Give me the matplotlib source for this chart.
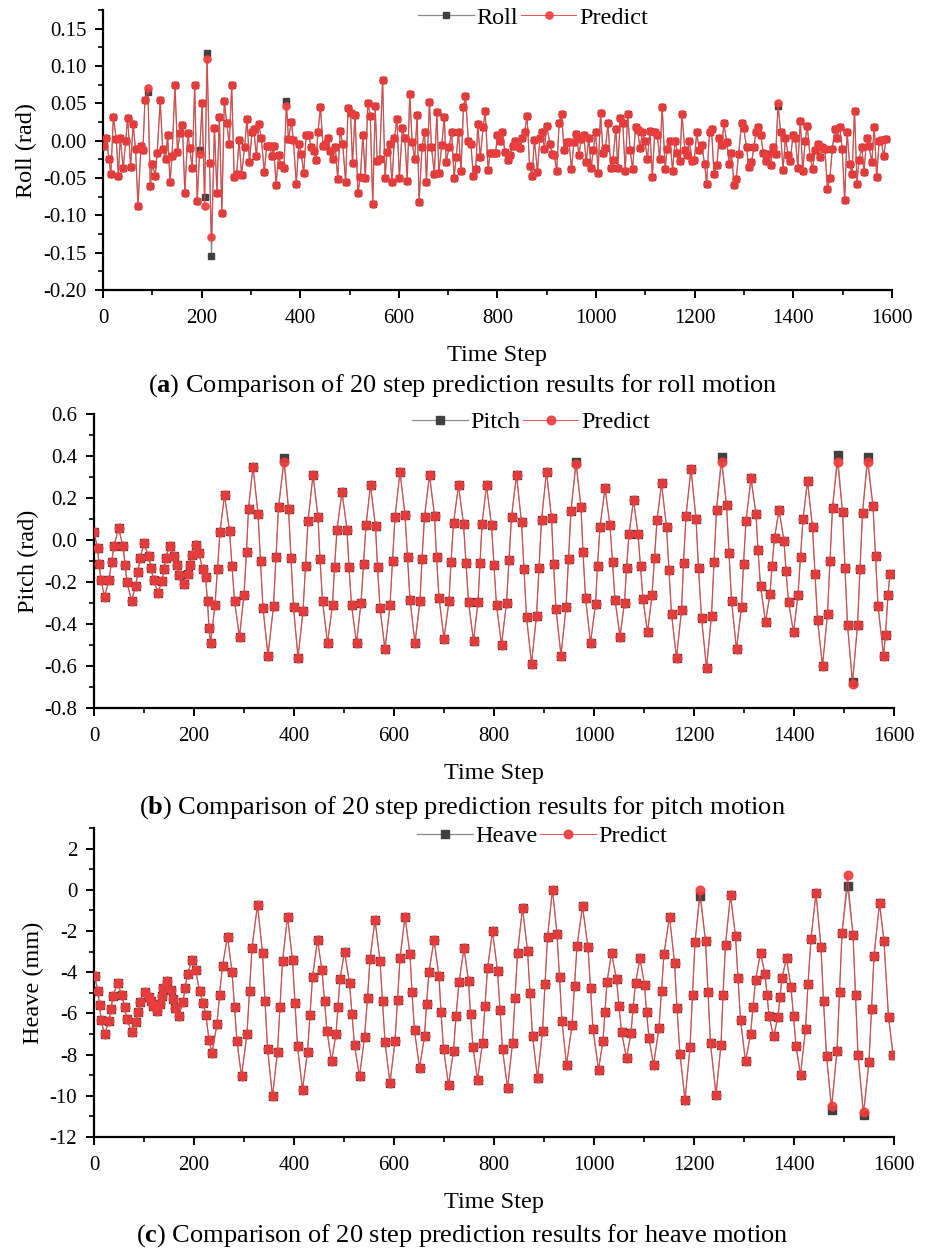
import matplotlib
matplotlib.use("Agg")
import matplotlib.pyplot as plt
from matplotlib.ticker import MultipleLocator, FormatStrFormatter

# ---------------- data ----------------
# (a) roll, rad  -- predicted values, measured differs only where listed below
roll_t = [3, 7, 12, 16, 21, 27, 31, 35, 41, 46, 50, 56, 61, 66, 71, 77, 81, 85, 91, 96,
          100, 106, 110, 116, 121, 127, 131, 136, 140, 146, 151, 156, 161, 166, 172, 176, 181, 186, 191, 196,
          201, 206, 211, 216, 220, 226, 231, 236, 241, 246, 251, 256, 261, 266, 271, 276, 281, 287, 292, 297,
          302, 306, 311, 316, 321, 327, 332, 338, 342, 346, 351, 356, 361, 367, 372, 376, 382, 386, 392, 397,
          402, 407, 412, 417, 422, 427, 432, 436, 441, 446, 451, 456, 461, 466, 471, 476, 481, 486, 492, 497,
          502, 506, 511, 517, 522, 527, 532, 537, 542, 547, 552, 556, 561, 567, 572, 576, 581, 586, 591, 596,
          601, 607, 612, 617, 622, 627, 632, 637, 641, 647, 652, 656, 662, 666, 672, 677, 681, 687, 692, 696,
          702, 707, 712,
          716, 721, 726, 731, 735, 741, 746, 751, 756, 760, 765, 771, 775, 781, 785, 790, 796, 800, 805, 810,
          815, 821, 825, 831, 836, 840, 846, 850, 855, 860, 865, 870, 875, 881, 886, 890, 895, 900, 906, 911,
          915, 920, 925, 930, 935, 940, 945, 950, 955, 960, 965, 970, 975, 980, 985, 990, 994, 999, 1004, 1009,
          1014, 1019, 1024, 1030, 1034, 1040, 1044, 1049, 1054, 1059, 1064, 1069, 1074, 1080, 1084, 1089, 1094,
          1099, 1104, 1109, 1114, 1119, 1124, 1129, 1134, 1140, 1144, 1150, 1155, 1160, 1165,
          1170, 1174, 1180, 1184, 1189, 1195, 1199, 1204, 1209, 1214, 1220, 1224, 1230, 1234, 1239, 1245, 1249,
          1255, 1259, 1265, 1270, 1274, 1280, 1284, 1289, 1295, 1299, 1305, 1309, 1315, 1320, 1324, 1329, 1334,
          1339, 1344, 1349, 1354, 1359, 1364, 1369, 1374, 1379, 1384, 1389, 1394, 1399, 1404, 1409, 1414, 1419,
          1424, 1428, 1434, 1439, 1444, 1449, 1454, 1459, 1464, 1469, 1474, 1479, 1484, 1489, 1494, 1499, 1504,
          1509, 1514, 1519, 1524, 1529, 1533, 1539, 1543, 1549, 1553, 1559, 1564, 1569, 1574, 1578, 1583, 1588]
roll_predict = [-0.007, 0.003, -0.025, -0.045, 0.032, 0.002, -0.047, 0.004, -0.037, -0.001,
                0.031, -0.035, 0.022, -0.011, -0.088, -0.007, -0.013, 0.054, 0.07, -0.061,
                -0.031, -0.047, -0.016, 0.054, -0.011, -0.025, 0.007, -0.055, -0.021, 0.075,
                -0.015, 0.01, 0.021, -0.07, 0.01, -0.01, -0.037, 0.075, -0.081, -0.018,
                0.05, -0.088, 0.11, -0.03, -0.129, 0.017, -0.07, 0.032, -0.097, 0.053,
                0.023, -0.005, 0.075, -0.048, -0.044, 0.001, -0.046, -0.009, 0.029, -0.029,
                0.011, 0.015, -0.021, 0.022, 0.004, -0.042, -0.007, -0.007, -0.021, -0.007,
                -0.059, -0.019, -0.033, -0.037, 0.046, 0.002, 0.025, 0.001, -0.058, -0.004,
                -0.018, -0.043, 0.008, 0.007, -0.008, -0.014, -0.026, 0.012, 0.045, -0.007,
                -0.004, 0.003, -0.014, -0.025, -0.008, -0.051, 0.013, -0.004, -0.055, 0.044,
                0.037, -0.03, 0.035, -0.07, -0.048, 0.008, -0.05, 0.051, 0.033, -0.085,
                0.046, -0.027, -0.024, 0.081, -0.05, -0.015, -0.005, -0.056, 0.003, 0.029,
                -0.05, 0.017, 0.003, -0.054, 0.063, -0.002, -0.025, 0.034, -0.082, -0.008,
                0.012, -0.055, 0.052, -0.008, -0.045, 0.039, -0.043, -0.006, 0.032, -0.029,
                -0.008, 0.012, -0.05,
                -0.022, 0.011, -0.041, 0.045, 0.06, 0.0, -0.004, -0.047, -0.038, 0.022,
                -0.022, 0.018, 0.04, -0.039, -0.017, -0.016, -0.016, 0.007, 0.0, 0.012,
                -0.015, -0.026, -0.019, -0.007, 0.0, -0.007, -0.01, 0.004, 0.012, 0.033,
                -0.034, -0.047, 0.001, -0.042, 0.004, 0.012, -0.011, 0.02, -0.004, -0.018,
                -0.019, -0.04, 0.023, 0.036, -0.013, -0.002, -0.002, -0.038, -0.002, 0.009,
                -0.019, 0.002, 0.008, -0.029, 0.004, -0.037, -0.013, 0.011, -0.043, 0.037,
                -0.017, -0.01, 0.023, -0.037, -0.026, 0.016, -0.037, 0.03, 0.024, -0.041,
                0.036, -0.013, -0.038, 0.018, 0.014, -0.01, 0.012, -0.001, -0.025, 0.013,
                -0.048, 0.012, 0.008, -0.025, 0.045, -0.038, -0.011, 0.0, -0.04, 0.0, -0.017,
                -0.027, 0.036, -0.013, -0.019, -0.001, -0.027, -0.026, 0.011, -0.012, -0.006,
                -0.031, -0.058, 0.012, 0.016, -0.044, -0.033, 0.004, -0.006, 0.023, -0.002,
                -0.031, -0.016, -0.059, -0.051, -0.018, 0.024, 0.017, -0.008, -0.035, -0.029,
                -0.009, 0.012, 0.018, 0.008, -0.017, -0.027, -0.018, -0.032, -0.008, -0.018,
                0.05, 0.012, -0.039, 0.004, -0.019, -0.027, 0.007, 0.004, -0.036, 0.027,
                -0.041, 0.0, 0.02, -0.022, -0.038, -0.013, -0.004, -0.022, -0.009, -0.011,
                -0.065, -0.05, -0.011, 0.016, 0.004, 0.018, -0.011, -0.08, 0.012, -0.031,
                -0.045, 0.04, -0.058, -0.026, -0.009, -0.042, 0.004, -0.007, -0.028, 0.018,
                -0.049, 0.0, 0.001, -0.021, 0.002]
# measured roll where it differs from the prediction
roll_meas_t = [91, 196, 206, 211, 220, 372, 1369]
roll_meas_v = [0.065, -0.012, -0.076, 0.117, -0.155, 0.053, 0.047]

# (b) pitch, rad -- measured; prediction differs only where listed
pitch_t = [0, 7, 10, 14, 21, 30, 35, 40, 49, 58, 62, 66, 75, 83, 88, 92, 100,
           109, 114, 119, 128, 136, 140, 143, 151, 160, 165, 170, 179, 187, 191, 195, 203,
           210, 217, 223, 227, 230, 233,
           242, 247, 252, 261, 271, 276, 281, 291, 300, 305, 309, 318, 328, 333, 338, 348,
           359, 364, 369, 380, 389, 394, 399, 408, 418, 423, 428, 438, 448, 452, 457, 467,
           477, 481, 486, 496, 506, 510, 515, 525, 534, 539, 544, 553, 563, 567, 572, 582,
           592, 597, 602, 612, 622, 627, 632, 642, 652, 656, 661, 671, 681, 685, 690, 700,
           710, 714, 719, 729, 739, 744, 749, 759, 768, 772, 776, 785, 795, 800, 805, 815,
           825, 830, 835, 845, 855, 860, 865, 875, 885, 890, 895, 905, 915, 919, 924, 934,
           944, 949, 954, 964, 974, 978, 983, 993, 1003, 1007, 1012, 1022, 1032, 1037, 1042, 1052,
           1061, 1065, 1070, 1079, 1088, 1093, 1098, 1107, 1116, 1121, 1126, 1135, 1145, 1150, 1155, 1165,
           1175, 1179, 1184, 1194, 1204, 1209, 1215, 1225, 1235, 1240, 1245, 1255, 1265, 1270, 1275, 1285,
           1295, 1299, 1304, 1314, 1324, 1328, 1333, 1343, 1352, 1356, 1361, 1370, 1380, 1384, 1389, 1399,
           1408, 1413, 1418, 1427, 1437, 1442, 1447, 1457, 1467, 1472, 1477, 1487, 1497, 1502, 1507, 1517,
           1527, 1532, 1537, 1547, 1558, 1563, 1568, 1579, 1583, 1588, 1592]
pitch = [0.04, -0.04, -0.115, -0.19, -0.27, -0.19, -0.107, -0.03, 0.056, -0.03, -0.117, -0.20, -0.29,
         -0.22, -0.153, -0.085, -0.016,
         -0.075, -0.133, -0.19, -0.25, -0.195, -0.14, -0.085, -0.03, -0.075, -0.12, -0.165, -0.21,
         -0.163, -0.117, -0.07, -0.024,
         -0.06, -0.14, -0.175, -0.29, -0.42, -0.49,
         -0.31, -0.138, 0.04, 0.214, 0.045, -0.123, -0.29, -0.46, -0.26, -0.055, 0.15, 0.35,
         0.125, -0.10, -0.325, -0.55,
         -0.315, -0.08, 0.155, 0.39, 0.15, -0.085, -0.32, -0.56, -0.34, -0.125, 0.09, 0.31,
         0.11, -0.09, -0.29, -0.49,
         -0.31, -0.13, 0.05, 0.23, 0.05, -0.13, -0.31, -0.49, -0.30, -0.115, 0.07, 0.26,
         0.065, -0.13, -0.325, -0.52,
         -0.31, -0.098, 0.11, 0.325, 0.12, -0.083, -0.285, -0.49, -0.29, -0.09, 0.11, 0.31,
         0.115, -0.08, -0.275, -0.47,
         -0.29, -0.105, 0.08, 0.26, 0.075, -0.11, -0.295, -0.48, -0.295, -0.11, 0.075, 0.26,
         0.07, -0.12, -0.31, -0.50,
         -0.30, -0.095, 0.11, 0.31, 0.085, -0.14, -0.365, -0.59, -0.36, -0.133, 0.095, 0.325,
         0.105, -0.113, -0.33, -0.55,
         -0.32, -0.089, 0.14, 0.373, 0.157, -0.059, -0.275, -0.49, -0.306, -0.122, 0.062, 0.246,
         0.07, -0.107, -0.284, -0.46,
         -0.298, -0.135, 0.028, 0.19, 0.03, -0.125, -0.283, -0.44, -0.263, -0.085, 0.093, 0.27,
         0.063, -0.145, -0.353, -0.56,
         -0.335, -0.11, 0.115, 0.34, 0.10, -0.135, -0.37, -0.61, -0.36, -0.107, 0.145, 0.397,
         0.168, -0.062, -0.29, -0.52,
         -0.317, -0.113, 0.09, 0.294, 0.123, -0.048, -0.219, -0.39, -0.257, -0.124, 0.01, 0.143,
         -0.003, -0.149, -0.294, -0.44,
         -0.26, -0.08, 0.10, 0.28, 0.06, -0.16, -0.38, -0.60, -0.35, -0.098, 0.154, 0.405,
         0.135, -0.135, -0.405, -0.675,
         -0.407, -0.139, 0.129, 0.397, 0.16, -0.077, -0.313, -0.55, -0.45, -0.26, -0.16]
pitch_pred_t = [380, 964, 1255, 1487, 1517, 1547]
pitch_pred_v = [0.37, 0.36, 0.37, 0.37, -0.685, 0.37]

# (c) heave, mm -- measured; prediction differs only where listed
heave_t = [1, 8, 11, 14, 21, 30, 34, 38, 47, 56, 61, 66, 75, 84, 88, 92, 101,
           109, 113, 117, 125, 132, 135, 138, 145, 153, 157, 161, 169, 178, 182, 187, 196,
           203, 211, 218, 224, 230, 236,
           246, 251, 257, 267, 276, 281, 286, 295, 306, 311, 316, 327, 337, 342, 347, 357,
           367, 372, 377, 387, 397, 402, 407, 417, 427, 432, 437, 447, 456, 461, 466, 475,
           484, 488, 492, 501, 511, 516, 521, 531, 541, 547, 552, 562, 572, 577, 582, 592,
           602, 607, 612, 622, 632, 636, 641, 651, 661, 665, 670, 680, 690, 694, 699, 709,
           719, 724, 730, 740, 749, 753, 758, 767, 777, 782, 787, 797, 807, 812, 817, 827,
           837, 842, 847, 857, 867, 872, 877, 887, 897, 902, 907, 917, 926, 931, 936, 945,
           956, 961, 966, 977, 988, 993, 998, 1009, 1018, 1022, 1026, 1035, 1045, 1050, 1055, 1065,
           1074, 1078, 1083, 1092, 1101, 1105, 1110, 1119, 1130, 1135, 1140, 1151, 1161, 1166, 1172, 1182,
           1192, 1197, 1202, 1212, 1223, 1228, 1233, 1244, 1254, 1258, 1263, 1273, 1283, 1288, 1293, 1303,
           1313, 1318, 1323, 1333, 1342, 1346, 1350, 1359, 1368, 1372, 1376, 1385, 1394, 1399, 1404, 1413,
           1423, 1428, 1434, 1444, 1454, 1459, 1465, 1475, 1486, 1491, 1496, 1507, 1518, 1523, 1528, 1539,
           1550, 1555, 1560, 1571, 1580, 1589, 1598]
heave = [-4.2, -4.9, -5.6, -6.3, -7.0, -6.38, -5.77, -5.15, -4.53, -5.12, -5.7, -6.29, -6.88,
         -6.4, -5.91, -5.43, -4.94,
         -5.18, -5.42, -5.66, -5.9, -5.53, -5.16, -4.79, -4.42, -4.85, -5.28, -5.72, -6.15,
         -5.46, -4.78, -4.09, -3.4,
         -3.9, -4.9, -5.5, -6.1, -7.3, -7.93,
         -6.52, -5.1, -3.69, -2.27, -3.97, -5.67, -7.36, -9.06, -6.98, -4.9, -2.81, -0.73,
         -3.06, -5.38, -7.71, -10.03,
         -7.85, -5.67, -3.48, -1.3, -3.4, -5.5, -7.6, -9.7, -7.88, -6.07, -4.25, -2.43,
         -3.91, -5.38, -6.86, -8.33,
         -7.0, -5.67, -4.33, -3.0, -4.52, -6.03, -7.55, -9.06, -7.16, -5.26, -3.36, -1.46,
         -3.44, -5.42, -7.4, -9.38,
         -7.36, -5.34, -3.32, -1.3, -3.14, -4.98, -6.82, -8.66, -7.1, -5.55, -3.99, -2.43,
         -4.19, -5.95, -7.71, -9.47,
         -7.81, -6.15, -4.49, -2.83, -4.43, -6.03, -7.62, -9.22, -7.42, -5.62, -3.82, -2.02,
         -3.92, -5.83, -7.73, -9.63,
         -7.45, -5.26, -3.07, -0.89, -2.95, -5.02, -7.08, -9.14, -6.86, -4.57, -2.29, 0.0,
         -2.13, -4.25, -6.38, -8.5,
         -6.58, -4.66, -2.73, -0.81, -2.79, -4.78, -6.76, -8.74, -7.32, -5.91, -4.49, -3.07,
         -4.35, -5.62, -6.9, -8.17,
         -6.96, -5.75, -4.53, -3.32, -4.62, -5.91, -7.2, -8.5, -6.7, -4.9, -3.1, -1.3,
         -3.53, -5.75, -7.98, -10.2,
         -7.65, -5.1, -2.55, -0.3, -2.49, -4.98, -7.46, -9.95, -7.52, -5.1, -2.67, -0.24,
         -2.26, -4.29, -6.31, -8.33,
         -7.02, -5.7, -4.39, -3.07, -4.08, -5.1, -6.11, -7.12, -6.17, -5.22, -4.27, -3.32,
         -4.74, -6.15, -7.57, -8.98,
         -6.78, -4.57, -2.37, -0.16, -2.79, -5.42, -8.05, -10.68, -7.83, -4.97, -2.12, 0.2,
         -2.18, -5.1, -8.01, -10.92,
         -8.35, -5.79, -3.22, -0.65, -2.49, -6.16, -8.0]
heave_pred_t = [1212, 1475, 1507, 1539]
heave_pred_v = [0.0, -10.5, 0.73, -10.8]

# ---------------- style ----------------
plt.rcParams['font.family'] = ['Liberation Serif', 'DejaVu Serif']
plt.rcParams['axes.unicode_minus'] = False
plt.rcParams['mathtext.fontset'] = 'custom'
plt.rcParams['mathtext.rm'] = 'Liberation Serif'
plt.rcParams['mathtext.bf'] = 'Liberation Serif:bold'

GREY_LINE = '#8a8a8a'
GREY_MK = '#404040'
RED = '#f03c3c'


def replace(ts, vals, fix_t, fix_v):
    out = list(vals)
    for t, v in zip(fix_t, fix_v):
        out[ts.index(t)] = v
    return out


def draw(ax, t, meas, pred, name, ylabel, ylim, ymaj, ymin, yfmt, leg_x, ms):
    ax.plot(t, meas, '-', color=GREY_LINE, lw=0.9, marker='s', ms=ms * 0.92,
            mfc=GREY_MK, mec=GREY_MK, label=name, zorder=2)
    ax.plot(t, pred, '-', color=RED, lw=0.7, alpha=0.9, marker='o', ms=ms,
            mfc=RED, mec=RED, label='Predict', zorder=3)
    ax.set_xlim(0, 1600)
    ax.set_ylim(*ylim)
    ax.xaxis.set_major_locator(MultipleLocator(200))
    ax.xaxis.set_minor_locator(MultipleLocator(100))
    ax.yaxis.set_major_locator(MultipleLocator(ymaj))
    ax.yaxis.set_minor_locator(MultipleLocator(ymin))
    ax.yaxis.set_major_formatter(FormatStrFormatter(yfmt))
    for s in ['top', 'right']:
        ax.spines[s].set_visible(False)
    for s in ['left', 'bottom']:
        ax.spines[s].set_linewidth(1.6)
    ax.tick_params(which='major', direction='out', length=6, width=1.4, labelsize=15, pad=6)
    ax.tick_params(which='minor', direction='out', length=3.5, width=1.2)
    ax.tick_params(axis='x', which='major', pad=8)
    ax.set_xlabel('Time Step', fontsize=17.5, labelpad=12)
    ax.set_ylabel(ylabel, fontsize=17.5, labelpad=4)
    h_px = ax.get_position().height * 1256
    ax.legend(loc='center', bbox_to_anchor=(leg_x, 1 - 8 / h_px), ncol=2, frameon=False,
              fontsize=17.5, handlelength=2.3, handletextpad=0.1, columnspacing=0.1,
              borderaxespad=0.0, borderpad=0.0, markerscale=1.0)


fig = plt.figure(figsize=(9.25, 12.56), dpi=100)
W, H = 925.0, 1256.0

ax_a = fig.add_axes([103 / W, 1 - 290 / H, 789 / W, 280 / H])
draw(ax_a, roll_t, replace(roll_t, roll_predict, roll_meas_t, roll_meas_v), roll_predict,
     'Roll', 'Roll (rad)', (-0.2, 0.175), 0.05, 0.025, '%.2f', 0.545, 5.2)

ax_b = fig.add_axes([94 / W, 1 - 708 / H, 800 / W, 294 / H])
draw(ax_b, pitch_t, pitch, replace(pitch_t, pitch, pitch_pred_t, pitch_pred_v),
     'Pitch', 'Pitch (rad)', (-0.8, 0.6), 0.2, 0.1, '%.1f', 0.546, 6.2)

ax_c = fig.add_axes([94 / W, 1 - 1137 / H, 800 / W, 309 / H])
draw(ax_c, heave_t, heave, replace(heave_t, heave, heave_pred_t, heave_pred_v),
     'Heave', 'Heave (mm)', (-12, 3), 2, 1, '%d', 0.56, 6.2)

captions = [(386, 'a', 'roll'), (808, 'b', 'pitch'), (1236, 'c', 'heave')]
for y, letter, motion in captions:
    fig.text(0.5, 1 - y / H,
             r'($\mathbf{%s}$) Comparison of 20 step prediction results for %s motion' % (letter, motion),
             ha='center', va='center', fontsize=19)

fig.savefig('out.png', dpi=100)
